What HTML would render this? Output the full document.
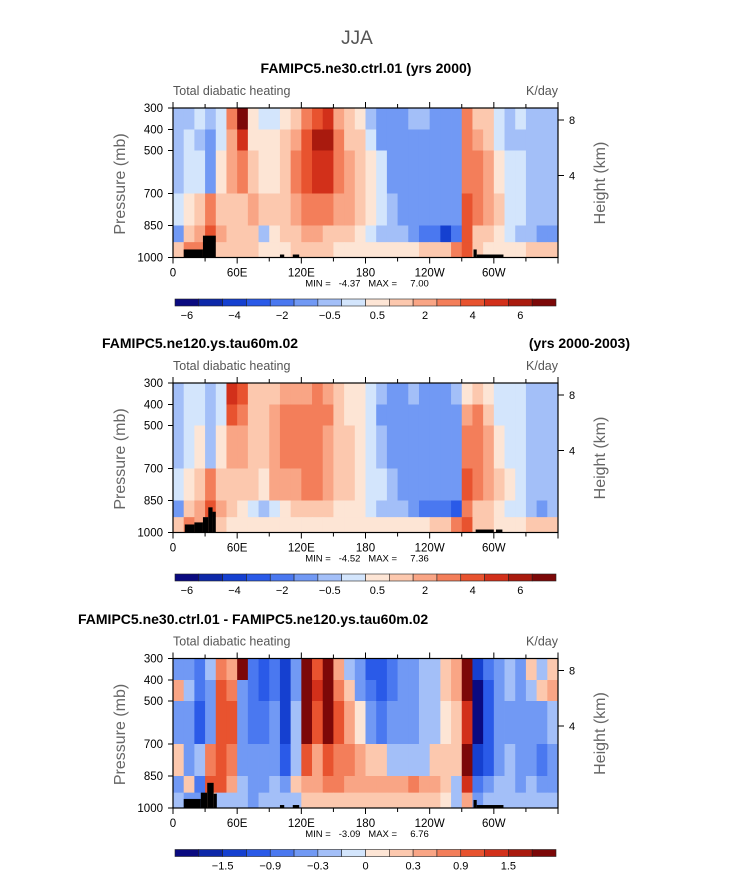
<!DOCTYPE html>
<html><head><meta charset="utf-8">
<style>
html,body{margin:0;padding:0;background:#fff;}
svg{display:block;font-family:"Liberation Sans",sans-serif;}
</style></head>
<body>
<svg id="chart" width="733" height="888" viewBox="0 0 733 888" xmlns="http://www.w3.org/2000/svg">
<text x="357" y="44" text-anchor="middle" font-size="19" fill="#555">JJA</text>
<text x="366" y="73" text-anchor="middle" font-size="14" font-weight="bold" fill="#000">FAMIPC5.ne30.ctrl.01 (yrs 2000)</text>
<text x="102" y="348" font-size="14" font-weight="bold" fill="#000">FAMIPC5.ne120.ys.tau60m.02</text>
<text x="630" y="348" text-anchor="end" font-size="14" font-weight="bold" fill="#000">(yrs 2000-2003)</text>
<text x="78" y="624" font-size="14" font-weight="bold" fill="#000">FAMIPC5.ne30.ctrl.01 - FAMIPC5.ne120.ys.tau60m.02</text>
</svg>
<script>
// ---- data ----
const lonCenters=[5,15,25,35,45,55,65,75,85,95,105,115,125,135,145,155,165,175,185,195,205,215,225,235,245,255,265,275,285,295,305,315,325,335,345,355];
const pressureEdges=[300,400,500,700,850,925,1000];
const pressureTicks=[300,400,500,700,850,1000];
const heightTicks=["8","4"];
const lonTickLabels=["0","60E","120E","180","120W","60W"];
const levelsAbs=[-5,-4,-3.5,-3,-2.5,-1.75,-0.9,0,0.6,1.25,2,2.75,3.5,4.25,5];
const levelsDiff=[-1.75,-1.55,-1.35,-1.05,-0.75,-0.45,-0.15,0,0.15,0.45,0.75,1.05,1.35,1.55,1.75];
const cbLabelsAbs=["-6","-4","-2","-0.5","0.5","2","4","6"];
const cbLabelsDiff=["-1.5","-0.9","-0.3","0","0.3","0.9","1.5"];
const minMax1=["-4.37","7.00"], minMax2=["-4.52","7.36"], minMax3=["-3.09","6.76"];

const field1=[
[-1,-1,-0.7,-1.5,-0.3,2,5,0.3,-0.3,-0.3,0.3,0.7,2.5,3,3.5,1.5,0.7,0.3,-1.5,-2,-2,-2,-1.5,-1.5,-2,-2,-2,2.5,1,0.7,-0.7,-1.5,-0.7,-1.5,-1.5,-1.5],
[-1.5,-0.7,-1,-2,-0.3,1.5,3.5,0.5,0.3,0.3,0.7,1.5,3,4.5,4.5,2,1,0.7,-0.7,-2,-2,-2,-2,-2,-2,-2,-2,2.5,1.5,1,-0.3,-1,-1,-1.5,-1.5,-1.5],
[-1,-0.7,-0.5,-2.5,0.3,1.5,2,0.7,0.3,0.3,0.7,2,3,4,3.5,2,1.5,0.7,0.3,-0.7,-2,-2,-2,-2,-2,-2,-2,2.5,2,1.5,0,-0.7,-0.7,-1.5,-1.5,-1.5],
[-0.7,0.3,1,2,1,0.7,1,1.5,0.7,0.7,0.7,1.5,2,2.5,2,1.5,1.5,0.7,0.3,-0.5,-1.5,-2,-2,-2,-2,-2,-2,3,2,1.5,0.7,-0.5,-0.7,-1.5,-1.5,-1.5],
[-2,1,1.5,3,1.5,0.7,1,1,-1.5,0.3,0.7,1,1.5,1.5,1.2,1,0.7,0.5,-0.3,-1,-1,-1.5,-2.5,-3,-3,-4,-3,3,1,0.7,0.5,-0.5,-1,-1.5,-2.5,-2],
[0.7,2,2,1.5,1,0.7,0.7,0.7,0.5,0.5,0.5,0.7,0.7,0.7,0.7,0.5,0.5,0.5,0.3,0.3,0.3,0.3,0.5,0.7,0.7,1,2,3,0.7,0.5,0.5,0.5,0.5,0.7,1,1]];
const field2=[
[-1,-0.7,-0.5,-1,-0.3,3.5,3,1,0.7,1,1.5,1.5,1.5,2,1.5,1,0.5,0.3,-0.3,-1.5,-2,-2,-1.5,-2,-2,-2,-1,0.5,1,0.5,-0.5,-0.3,-0.5,-1,-1,-1.5],
[-1,-0.5,-0.7,-1.5,-0.3,3,2.5,1,0.7,1.5,2,2,2.5,2.5,2,1,0.5,0.3,-0.5,-2,-2,-2,-2,-2,-2,-2,-2,1.5,2,1,-0.3,-0.5,-0.7,-1,-1.5,-1.5],
[-1,-0.3,0.3,-1,0.3,1.5,1.5,0.7,0.7,1.5,2,2,2.5,2.5,1.5,1,0.7,0.5,-0.3,-1.5,-2,-2,-2,-2,-2,-2,-2,2.5,2.5,1.5,0.5,-0.3,-0.7,-1,-1.5,-1.5],
[-0.5,0.3,0.7,2,0.7,0.7,1,0.7,0.5,1.5,1.5,1.5,2,2,1.5,1,0.7,0.5,-0.3,-0.7,-1.5,-2,-2,-2,-2,-2,-2,3,2,1.5,1,0.3,-0.5,-1,-1.5,-1.5],
[-2,0.7,1.5,3,1.5,0.7,0.5,-0.5,-1,-0.5,0.5,1,1,1,0.7,0.5,0.5,0.3,-0.3,-1,-1,-1.5,-2,-3,-3,-3,-3.5,2,1,0.7,0.5,-0.3,-0.7,-1,-2,-1.5],
[0.7,2,1.5,1.5,1,0.5,0.5,0.5,0.3,0.3,0.5,0.5,0.5,0.5,0.5,0.5,0.5,0.5,0.5,0.5,0.3,0.3,0.5,0.5,0.7,1,2,3,0.7,0.7,0.5,0.5,0.5,0.7,1,1]];
const field3=[
[-0.6,-0.6,-0.9,-0.3,0.9,0.6,1.8,-0.9,-1.2,-0.9,-1.5,-0.6,1.8,1.2,2,0.6,-0.3,-0.6,-1.2,-1.2,-0.9,-0.6,-0.6,-0.3,-0.3,0.3,0.6,1.8,-1.5,-0.9,-0.6,-0.3,-0.6,0.3,-0.3,0.3],
[0.6,-0.3,-0.9,-0.6,1.2,0.9,-0.6,-0.9,-1.2,-0.9,-1.5,-0.6,1.8,1.5,2,0.9,0.3,-0.6,-0.9,-1.2,-0.9,-0.6,-0.6,-0.3,-0.3,0.3,0.6,1.8,-1.8,-1.2,-0.6,-0.3,-0.6,-0.3,0.3,0.6],
[-0.6,-0.6,-1.2,-0.6,1.2,1.2,-0.6,-0.9,-0.9,-0.6,-1.5,-0.3,1.8,1.2,1.8,1.2,0.6,0,-0.6,-0.9,-0.6,-0.6,-0.6,-0.3,-0.3,0,0.3,1.5,-1.8,-1.2,-0.6,-0.6,-0.6,-0.6,-0.6,-0.3],
[0.3,-0.6,-0.3,0.9,1.2,0.9,-0.6,-0.6,-0.6,-0.6,-1.2,-0.3,1.2,0.6,1.2,0.9,0.9,0.6,0.3,0.3,-0.3,-0.3,-0.3,-0.3,0.3,0.3,0.3,1.8,-1.5,-1.2,-0.6,-0.3,-0.6,-0.6,-0.9,-0.6],
[-0.6,0.3,-0.9,1.2,1.2,0.6,-0.3,-0.6,-0.6,-0.3,-0.6,0.3,0.6,0.6,0.9,0.9,0.6,0.6,0.6,0.6,0.6,0.6,0.9,0.6,0.6,0.3,-0.3,1.5,-0.9,-0.6,-0.3,-0.3,-0.6,-0.3,-0.6,-0.6],
[-0.3,-0.6,-0.6,0.3,-0.3,-0.3,-0.3,-0.6,-0.3,-0.3,-0.3,-0.3,0.3,0.3,0.3,0.3,0.3,0.3,0.3,0.3,0.3,0.3,0.3,0.3,0.3,0,-0.3,0.6,-0.6,-0.3,-0.3,-0.3,-0.3,-0.3,-0.3,-0.3]];
// orography blocks: [lonStart, lonEnd, topPressure]
const oro1=[[10,28,960],[28,40,895],[100,104,985],[112,118,985],[281,284,960],[284,309,985]];
const oro2=[[11,20,960],[20,28,950],[28,33,925],[33,37,880],[37,40,900],[283,300,985],[302,308,985]];
const oro3=[[10,26,955],[26,32,925],[32,38,880],[38,41,930],[100,104,985],[112,118,985],[281,284,960],[284,309,985]];

const palette=["#0a0a80","#0d28a8","#1540d0","#2a5ae8","#4a78f0","#7199f4","#a3bff8","#d3e5fc","#fde5d5","#fcc8ae","#f9a585","#f37e5a","#e8532f","#d2301a","#a91a0e","#7c0808"];

// ---- drawing ----
const svg=document.getElementById('chart');
const NS="http://www.w3.org/2000/svg";
const X0=173,X1=558,W=X1-X0,H=149.5;
const pTickY=[0,21.5,42.5,85.5,117.5,149.5];
function xScale(lon){return X0+lon/360*W;}
function yRel(p){
  const ps=pressureTicks;
  for(let i=0;i<ps.length-1;i++){
    if(p>=ps[i]&&p<=ps[i+1]){const t=Math.log(p/ps[i])/Math.log(ps[i+1]/ps[i]);return pTickY[i]+t*(pTickY[i+1]-pTickY[i]);}
  }
  return p<300?0:H;
}
function colorFor(v,levels){let i=0;while(i<levels.length&&v>=levels[i])i++;return palette[i];}
function mk(tag,attrs,parent){const e=document.createElementNS(NS,tag);for(const k in attrs)e.setAttribute(k,attrs[k]);(parent||svg).appendChild(e);return e;}
function txt(x,y,s,size,anchor,fill,parent){const t=mk('text',{x:x,y:y,'font-size':size,'text-anchor':anchor||'start',fill:fill||'#000'},parent);t.textContent=s;return t;}

function panel(idx,top,field,levels,oro,cbLabels,mm,labelAtCentre){
  const g=mk('g',{});
  
  
  const step=lonCenters[1]-lonCenters[0];
  for(let r=0;r<field.length;r++){
    const y0=top+yRel(pressureEdges[r]),y1=top+yRel(pressureEdges[r+1]);
    for(let c=0;c<lonCenters.length;c++){
      const xa=xScale(lonCenters[c]-step/2),xb=xScale(lonCenters[c]+step/2);
      const rc=mk('rect',{x:xa,y:y0,width:xb-xa+0.4,height:y1-y0+0.4,fill:colorFor(field[r][c],levels)},g);
      
      
    }
  }
  oro.forEach(o=>{
    const xa=xScale(o[0]),xb=xScale(o[1]),yt=top+yRel(o[2]);
    const b=mk('rect',{x:xa,y:yt,width:xb-xa,height:top+H-yt,fill:'#000'},g);
    
    
  });
  const fr=mk('rect',{x:X0,y:top,width:W,height:H,fill:'none',stroke:'#000','stroke-width':1.2},g);
  
  
  for(let lon=0;lon<=360;lon+=30){
    const x=xScale(lon),len=lon%60===0?6:4;
    mk('line',{x1:x,y1:top+H,x2:x,y2:top+H+len,stroke:'#000'},g);
    mk('line',{x1:x,y1:top,x2:x,y2:top-len,stroke:'#000'},g);
  }
  lonTickLabels.forEach((s,i)=>{const t=txt(xScale(i*60),top+H+19,s,11.5,'middle','#000',g);
    
    });
  pressureTicks.forEach(p=>{
    const y=top+yRel(p);
    mk('line',{x1:X0,y1:y,x2:X0-5,y2:y,stroke:'#000'},g);
    const t=txt(X0-10,y+4,String(p),11.5,'end','#000',g);
    
    
  });
  const hy=[12,67.5];
  heightTicks.forEach((s,i)=>{const y=top+hy[i];mk('line',{x1:X1,y1:y,x2:X1+6,y2:y,stroke:'#000'},g);
    const t=txt(X1+14,y+4,s,11,'middle','#000',g);
    
    });
  const yl=txt(0,0,'Pressure (mb)',16,'middle','#666',g);
  yl.setAttribute('transform','translate(125,'+(top+76)+') rotate(-90)');
  
  
  const hl=txt(0,0,'Height (km)',16,'middle','#666',g);
  hl.setAttribute('transform','translate(605,'+(top+75)+') rotate(-90)');
  
  
  const st=txt(X0,top-13,'Total diabatic heating',12.5,'start','#555',g);
  
  
  const un=txt(X1,top-13,'K/day',12.5,'end','#555',g);
  
  
  const mmT=txt(367,top+H+29,'MIN =   '+mm[0]+'   MAX =     '+mm[1],9.5,'middle','#000',g);
  
  
  mmT.style.whiteSpace='pre';
  const cbx=175,cbw=381,cby=top+191,bw=cbw/palette.length;
  palette.forEach((col,i)=>{const r=mk('rect',{x:cbx+i*bw,y:cby,width:bw,height:7,fill:col,stroke:'#222','stroke-width':0.6},g);
    
    });
  cbLabels.forEach((s,i)=>{
    const x = labelAtCentre ? cbx+(2*i+0.5)*bw : cbx+(2*i+2)*bw;
    const t=txt(x,cby+20,s.replace('-','\u2212'),11,'middle','#000',g);
    
    
  });
}
panel(1,108,field1,levelsAbs,oro1,cbLabelsAbs,minMax1,true);
panel(2,383,field2,levelsAbs,oro2,cbLabelsAbs,minMax2,true);
panel(3,658.5,field3,levelsDiff,oro3,cbLabelsDiff,minMax3,false);
</script>
</body></html>
